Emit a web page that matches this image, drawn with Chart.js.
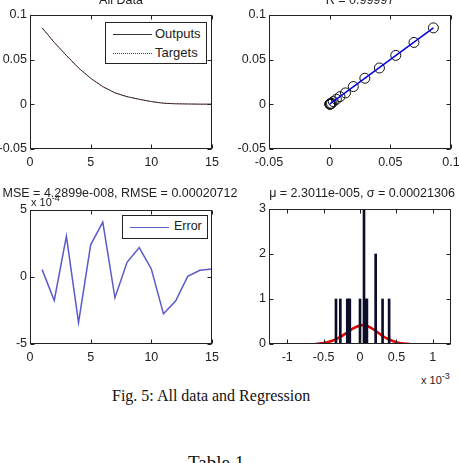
<!DOCTYPE html>
<html lang="en">
<head>
<meta charset="UTF-8" />
<title>All data and Regression</title>
<script src="https://cdn.jsdelivr.net/npm/chart.js"></script>
<style>
  body { margin: 0; width: 459px; height: 463px; overflow: hidden; background: #fff; position: relative;
         font-family: "Liberation Sans", Arial, sans-serif; color: #222; }
  canvas { position: absolute; }
  .t { position: absolute; font-size: 12.5px; white-space: nowrap; transform: translate(-50%, -50%); }
  .leg { position: absolute; border: 1px solid #222; background: #fff; font-size: 13px; }
  .row { position: absolute; left: 0; height: 15px; line-height: 15px; white-space: nowrap; }
  .sample { position: absolute; top: 8px; width: 39px; }
  .exp { position: absolute; font-size: 11px; white-space: nowrap; }
  .serif { position: absolute; font-family: "Liberation Serif", "Times New Roman", serif; white-space: nowrap; color: #111; }
</style>
</head>
<body>
<canvas id="allData" width="229" height="175" style="left:0;top:0"></canvas>
<canvas id="regress" width="230" height="175" style="left:229px;top:0"></canvas>
<canvas id="errPlot" width="229" height="175" style="left:0;top:195px"></canvas>
<canvas id="histPlot" width="230" height="175" style="left:229px;top:195px"></canvas>

<div class="t" style="left:121px;top:0px">All Data</div>
<div class="t" style="left:360px;top:0px">R = 0.99997</div>
<div class="t" style="left:120px;top:193px">MSE = 4.2899e-008, RMSE = 0.00020712</div>
<div class="t" style="left:362px;top:193px">&mu; = 2.3011e-005, &sigma; = 0.00021306</div>
<div class="exp" style="left:31px;top:193px">x 10<sup style="font-size:9px">-4</sup></div>
<div class="exp" style="left:421px;top:371px">x 10<sup style="font-size:9px">-3</sup></div>

<div class="leg" style="left:105px;top:22px;width:100px;height:40px">
  <div class="row" style="top:3px"><span class="sample" style="left:7px;border-top:1px solid #333"></span><span style="position:absolute;left:49px">Outputs</span></div>
  <div class="row" style="top:22px"><span class="sample" style="left:7px;border-top:1px dotted #d00"></span><span style="position:absolute;left:49px">Targets</span></div>
</div>
<div class="leg" style="left:122px;top:215px;width:84px;height:22px">
  <div class="row" style="top:3px;font-size:12.5px"><span class="sample" style="left:7px;border-top:1.5px solid #5b5bc8"></span><span style="position:absolute;left:51px">Error</span></div>
</div>

<div class="serif" style="left:112px;top:387px;font-size:16px">Fig. 5: All data and Regression</div>
<div class="serif" style="left:188px;top:452px;font-size:19px">Table 1</div>

<script>
// time steps
const steps = [1, 2, 3, 4, 5, 6, 7, 8, 9, 10, 11, 12, 13, 14, 15];
// network targets and outputs
const targets = [0.0855, 0.0695, 0.0545, 0.0410, 0.0290, 0.0195, 0.0130, 0.0085, 0.0055, 0.0030, 0.0015, 0.0008, 0.0004, 0.0002, 0.0001];
const outputs = [0.0856, 0.0693, 0.0548, 0.0407, 0.0292, 0.0199, 0.0128, 0.0086, 0.0057, 0.0031, 0.0012, 0.0006, 0.0004, 0.0002, 0.0002];
// error, in units of 1e-4
const errorE4 = [0.55, -1.75, 3.05, -3.4, 2.4, 4.1, -1.55, 1.1, 2.2, 0.6, -2.75, -1.8, 0.05, 0.5, 0.6];
// regression fit line
const fitX = [0, 0.0855];
const fitY = [0.0002, 0.0855];
// histogram of error, x in units of 1e-3
const histX = [-0.33, -0.27, -0.175, -0.158, -0.14, 0.0, 0.055, 0.075, 0.095, 0.215, 0.31, 0.40];
const histN = [1, 1, 1, 1, 1, 1, 3, 1, 1, 2, 1, 1];
// fitted normal curve
const pdfX = [-0.62, -0.5, -0.4, -0.3, -0.2, -0.1, 0.0, 0.04, 0.1, 0.2, 0.3, 0.4, 0.5, 0.6, 0.68];
const pdfY = [0.0, 0.02, 0.06, 0.13, 0.23, 0.34, 0.41, 0.42, 0.40, 0.31, 0.19, 0.10, 0.04, 0.01, 0.0];

Chart.defaults.font.family = '"Liberation Sans", Arial, sans-serif';
Chart.defaults.font.size = 12.5;
Chart.defaults.color = '#222';

const fmt = v => String(parseFloat(Number(v).toFixed(4)));

const boxPlugin = {
  id: 'box',
  afterDatasetsDraw(chart) {
    const { ctx, chartArea: a, scales } = chart;
    const L = Math.round(a.left) + 0.5, R = Math.round(a.right) - 0.5;
    const T = Math.round(a.top) + 0.5, B = Math.round(a.bottom) - 0.5;
    ctx.save();
    ctx.strokeStyle = '#222';
    ctx.lineWidth = 1;
    ctx.strokeRect(L, T, R - L, B - T);
    ctx.beginPath();
    scales.x.ticks.forEach(t => {
      const p = Math.round(scales.x.getPixelForValue(t.value)) + 0.5;
      ctx.moveTo(p, B); ctx.lineTo(p, B - 4);
      ctx.moveTo(p, T); ctx.lineTo(p, T + 4);
    });
    scales.y.ticks.forEach(t => {
      const p = Math.round(scales.y.getPixelForValue(t.value)) + 0.5;
      ctx.moveTo(L, p); ctx.lineTo(L + 4, p);
      ctx.moveTo(R, p); ctx.lineTo(R - 4, p);
    });
    ctx.stroke();
    ctx.restore();
  }
};

function axes(xr, yr, yWidth) {
  return {
    x: {
      type: 'linear', min: xr[0], max: xr[1],
      grid: { display: false, drawTicks: false }, border: { display: false },
      ticks: { stepSize: xr[2], padding: 6, maxRotation: 0, autoSkip: false, callback: fmt },
      afterFit: s => { s.height = 26; s.paddingLeft = 0; s.paddingRight = 0; }
    },
    y: {
      type: 'linear', min: yr[0], max: yr[1],
      grid: { display: false, drawTicks: false }, border: { display: false },
      ticks: { stepSize: yr[2], padding: 3, autoSkip: false, callback: fmt },
      afterFit: s => { s.width = yWidth; s.paddingTop = 0; s.paddingBottom = 0; }
    }
  };
}

function baseOptions(xr, yr, yWidth, pad) {
  return {
    responsive: false, animation: false, devicePixelRatio: 1,
    layout: { padding: pad },
    plugins: { legend: { display: false }, title: { display: false }, tooltip: { enabled: false } },
    scales: axes(xr, yr, yWidth)
  };
}

const pts = (xs, ys) => xs.map((x, i) => ({ x: x, y: ys[i] }));

new Chart(document.getElementById('allData'), {
  type: 'line',
  data: {
    datasets: [
      { data: pts(steps, outputs), borderColor: '#333', borderWidth: 1, pointRadius: 0 },
      { data: pts(steps, targets), borderColor: '#e00000', borderWidth: 1, borderDash: [1, 2], pointRadius: 0 }
    ]
  },
  options: baseOptions([0, 15, 5], [-0.05, 0.1, 0.05], 30, { top: 15, right: 17, bottom: 0, left: 0 }),
  plugins: [boxPlugin]
});

new Chart(document.getElementById('regress'), {
  type: 'scatter',
  data: {
    datasets: [
      { type: 'line', data: pts(fitX, fitY), borderColor: '#0000e0', borderWidth: 1.5, pointRadius: 0 },
      { data: pts(targets, outputs), pointRadius: 5, pointStyle: 'circle', borderColor: '#111', borderWidth: 1, backgroundColor: 'rgba(0,0,0,0)' }
    ]
  },
  options: baseOptions([-0.05, 0.1, 0.05], [-0.05, 0.1, 0.05], 40, { top: 15, right: 8, bottom: 0, left: 0 }),
  plugins: [boxPlugin]
});

new Chart(document.getElementById('errPlot'), {
  type: 'line',
  data: {
    datasets: [
      { data: pts(steps, errorE4), borderColor: '#5b5bc8', borderWidth: 1.5, pointRadius: 0 }
    ]
  },
  options: baseOptions([0, 15, 5], [-5, 5, 5], 30, { top: 15, right: 17, bottom: 0, left: 0 }),
  plugins: [boxPlugin]
});

new Chart(document.getElementById('histPlot'), {
  type: 'bar',
  data: {
    datasets: [
      { type: 'bar', data: pts(histX, histN), backgroundColor: '#0d0d2a', barThickness: 2, grouped: false },
      { type: 'line', data: pts(pdfX, pdfY), borderColor: '#e00000', borderWidth: 2.5, pointRadius: 0, tension: 0.4 }
    ]
  },
  options: baseOptions([-1, 1, 0.5], [0, 3, 1], 40, { top: 14, right: 8, bottom: 0, left: 0 }),
  plugins: [boxPlugin]
});
</script>
</body>
</html>
